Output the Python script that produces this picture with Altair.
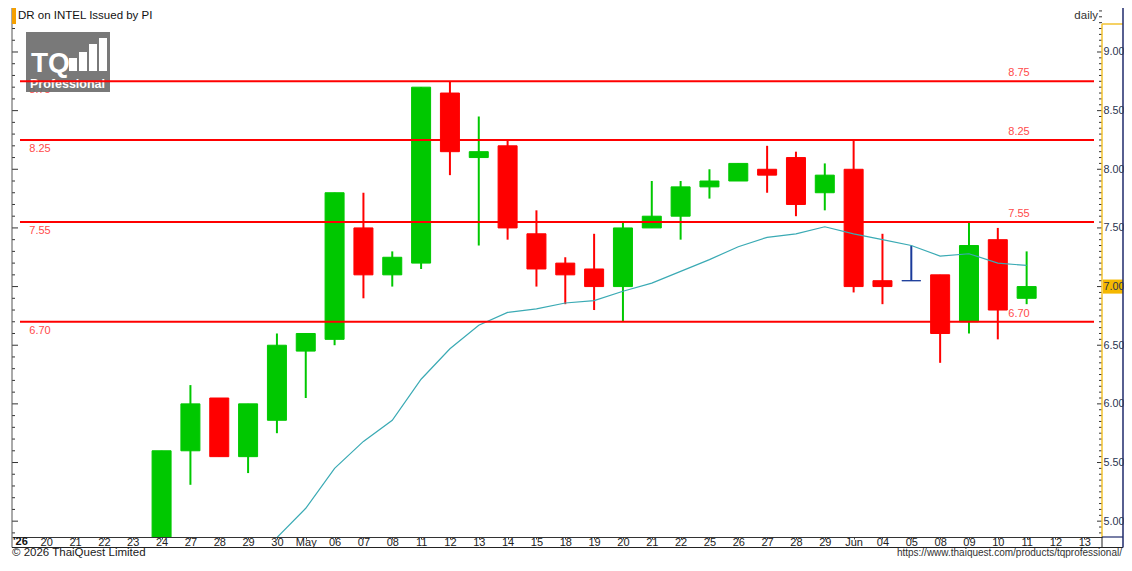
import altair as alt
import pandas as pd
import numpy as np

# ---------------- data ----------------
labels = ["20", "21", "22", "23", "24", "27", "28", "29", "30", "May", "06", "07", "08",
          "11", "12", "13", "14", "15", "18", "19", "20", "21", "22", "25", "26", "27",
          "28", "29", "Jun", "04", "05", "08", "09", "10", "11", "12", "13"]

cdl_idx = list(range(4, 35))
opens  = [4.76, 5.60, 6.05, 5.55, 5.86, 6.45, 6.55, 7.50, 7.10, 7.20, 8.65, 8.10, 8.20, 7.45,
          7.20, 7.15, 7.00, 7.50, 7.60, 7.85, 7.90, 8.00, 8.10, 7.80, 8.00, 7.05, 7.05, 7.10,
          6.70, 7.40, 6.90]
closes = [5.60, 6.00, 5.55, 6.00, 6.50, 6.60, 7.80, 7.10, 7.25, 8.70, 8.15, 8.15, 7.50, 7.15,
          7.10, 7.00, 7.50, 7.60, 7.85, 7.90, 8.05, 7.95, 7.70, 7.95, 7.00, 7.00, 7.05, 6.60,
          7.35, 6.80, 7.00]
highs  = [5.60, 6.16, 6.05, 6.00, 6.60, 6.60, 7.80, 7.80, 7.30, 8.70, 8.75, 8.45, 8.25, 7.65,
          7.25, 7.45, 7.55, 7.90, 7.90, 8.00, 8.05, 8.20, 8.15, 8.05, 8.25, 7.45, 7.35, 7.10,
          7.55, 7.50, 7.30]
lows   = [4.70, 5.31, 5.55, 5.41, 5.75, 6.05, 6.50, 6.90, 7.00, 7.15, 7.95, 7.35, 7.40, 7.00,
          6.85, 6.80, 6.70, 7.50, 7.40, 7.75, 7.90, 7.80, 7.60, 7.65, 6.95, 6.85, 7.05, 6.35,
          6.60, 6.55, 6.85]

ma_idx = list(range(8, 35))
ma_vals = [4.86, 5.11, 5.45, 5.68, 5.86, 6.21, 6.47, 6.67, 6.78, 6.81, 6.86, 6.88, 6.96, 7.03,
           7.13, 7.23, 7.34, 7.42, 7.45, 7.51, 7.45, 7.40, 7.35, 7.26, 7.28, 7.20, 7.18]

levels = [8.75, 8.25, 7.55, 6.70]
level_text = ["8.75", "8.25", "7.55", "6.70"]
right_ticks = [5.0, 5.5, 6.0, 6.5, 7.0, 7.5, 8.0, 8.5, 9.0]

# ---------------- layout ----------------
W, H = 1090, 529
PAD_R, PAD_B = 22, 21
YMIN, YMAX = 4.865, 9.375
XMIN, XMAX = -1.014, 36.44
FONT = "Liberation Sans"

df = pd.DataFrame(dict(i=cdl_idx, o=opens, c=closes, h=highs, l=lows))
df["col"] = np.where(df.c > df.o, "#00c800", np.where(df.c < df.o, "#ff0000", "#1a3a9a"))
ma_df = pd.DataFrame(dict(i=ma_idx, v=ma_vals))
lv_df = pd.DataFrame(dict(lv=levels, t=level_text))

xscale = alt.Scale(domain=[XMIN, XMAX], nice=False, zero=False)
yscale = alt.Scale(domain=[YMIN, YMAX], nice=False, zero=False)
label_js = "[" + ",".join("'%s'" % s for s in labels) + "]"
xaxis = alt.Axis(values=list(range(len(labels))), labelExpr=label_js + "[datum.value]",
                 grid=False, domainColor="#333", tickColor="#444", tickSize=2,
                 labelPadding=3, labelBaseline="middle", labelFont=FONT, labelFontSize=11,
                 labelColor="#222", labelAngle=0, title=None, labelFlush=False,
                 labelOverlap=False)
yaxis = alt.Axis(orient="right", values=right_ticks, format=".2f", grid=False, ticks=False,
                 domain=False, labelPadding=1, labelFont=FONT, labelFontSize=10.8,
                 labelColor="#2a3550", title=None, zindex=1, labelFlush=False,
                 labelOverlap=False)


def X(f):
    return alt.X(f, type="quantitative", scale=xscale, axis=xaxis)


def Y(f):
    return alt.Y(f, type="quantitative", scale=yscale, axis=yaxis)


one = pd.DataFrame({"a": [0]})

# support / resistance labels on the left sit under the logo
lv_left = alt.Chart(lv_df).mark_text(color="#ff4a4a", font=FONT, fontSize=11, dy=9,
                                     align="center").encode(y=Y("lv"), x=alt.value(28), text="t:N")

# logo (decoration)
logo_bg = alt.Chart(one).mark_rect(color="#6a6a6a", opacity=0.9).encode(
    x=alt.value(14), x2=alt.value(98), y=alt.value(24), y2=alt.value(84))
logo_tq = alt.Chart(one).mark_text(text="TQ", color="white", font=FONT, fontSize=28,
                                   fontWeight="bold", align="left", baseline="alphabetic").encode(
    x=alt.value(19), y=alt.value(64))
logo_bars = alt.layer(*[
    alt.Chart(one).mark_rect(color="white").encode(
        x=alt.value(x0), x2=alt.value(x0 + 8), y=alt.value(top), y2=alt.value(63))
    for x0, top in [(57, 50), (67, 44), (77, 36), (87, 30)]
])
logo_pro = alt.Chart(one).mark_text(text="Professional", color="white", font=FONT,
                                    fontSize=12.5, fontWeight="bold", align="left",
                                    baseline="middle").encode(x=alt.value(18), y=alt.value(76))

# candles
wicks = alt.Chart(df).mark_rule(strokeWidth=2, clip=True).encode(
    x=X("i"), y=Y("l"), y2="h", color=alt.Color("col:N", scale=None))
bodies = alt.Chart(df).mark_bar(size=19, strokeWidth=1, clip=True).encode(
    x=X("i"), y=Y("o"), y2="c", color=alt.Color("col:N", scale=None),
    stroke=alt.Stroke("col:N", scale=None))
ma_line = alt.Chart(ma_df).mark_line(color="#3aaab4", strokeWidth=1.2, clip=True).encode(
    x=X("i"), y=Y("v"))

# support / resistance lines
lv_lines = alt.Chart(lv_df).mark_rule(color="#ff0000", strokeWidth=2).encode(
    y=Y("lv"), x=alt.value(8), x2=alt.value(W - 8))
lv_right = alt.Chart(lv_df).mark_text(color="#ff4a4a", font=FONT, fontSize=11, dy=-8,
                                      align="center").encode(y=Y("lv"), x=alt.value(1007), text="t:N")

# small axis ticks (decoration)
lt = np.round(np.arange(4.9, 9.35, 0.1), 2)
left_minor = pd.DataFrame({"v": [v for v in lt if abs(v * 2 - round(v * 2)) > 1e-6]})
left_major = pd.DataFrame({"v": [v for v in lt if abs(v * 2 - round(v * 2)) < 1e-6]})
rt = np.round(np.arange(4.9, 9.36, 0.05), 2)
right_minor = pd.DataFrame({"v": [v for v in rt if abs(v * 2 - round(v * 2)) > 1e-6]})
right_major = pd.DataFrame({"v": [v for v in rt if abs(v * 2 - round(v * 2)) < 1e-6]})


def tick_layer(d, x0, x1):
    return alt.Chart(d).mark_rule(color="#333", strokeWidth=1).encode(
        y=Y("v"), x=alt.value(x0), x2=alt.value(x1))


ticks = alt.layer(tick_layer(left_minor, 0, 3), tick_layer(left_major, 0, 6),
                  tick_layer(right_minor, W - 3, W), tick_layer(right_major, W - 5, W))

# current price marker
last_close = closes[-1]
cur_df = pd.DataFrame({"lo": [last_close - 0.06], "hi": [last_close + 0.06]})
cur_box = alt.Chart(cur_df).mark_rect(color="#f5b800").encode(
    y=Y("lo"), y2="hi", x=alt.value(W + 1), x2=alt.value(W + PAD_R - 1))


def rule(x0, x1, y0, y1, color, w=1):
    return alt.Chart(one).mark_rule(color=color, strokeWidth=w).encode(
        x=alt.value(x0), x2=alt.value(x1), y=alt.value(y0), y2=alt.value(y1))


RX = W + PAD_R - 1
SB = H + 10.5  # bottom of the date strip
frame = alt.layer(
    rule(0, 0, 0, SB, "#555"),
    rule(0, RX, SB, SB, "#222", 1.2),
    rule(W, W, 16, H, "#f2c230", 1.5),
    rule(W, RX, 16, 16, "#f2c230", 1.5),
    rule(W, W, H, SB, "#222"),
    rule(RX, RX, 0, SB, "#1f2a6b", 1.5),
    rule(W, RX, H, H, "#1f2a6b", 1.2),
)

orange = alt.Chart(one).mark_rect(color="#f5a000").encode(
    x=alt.value(0), x2=alt.value(4), y=alt.value(0), y2=alt.value(16))


def text(s, x, y, size=12, align="left", color="#111", weight="normal", baseline="middle"):
    return alt.Chart(one).mark_text(text=s, font=FONT, fontSize=size, align=align,
                                    color=color, fontWeight=weight, baseline=baseline).encode(
        x=alt.value(x), y=alt.value(y))


texts = alt.layer(
    text("DR on INTEL Issued by PI", 6, 8, size=11.5),
    text("daily", W - 4, 8, size=11.5, align="right", color="#333"),
    text("'26", 1, H + 5, size=11, weight="bold", color="#111"),
    text("\u00a9 2026 ThaiQuest Limited", 0, H + 19, size=11.5, color="#222",
         baseline="alphabetic"),
    text("https://www.thaiquest.com/products/tqprofessional/", RX - 1, H + 19, size=10,
         align="right", color="#333", baseline="alphabetic"),
)

chart = alt.layer(
    lv_left, logo_bg, logo_tq, logo_bars, logo_pro,
    wicks, bodies, ma_line,
    lv_lines, lv_right,
    ticks, cur_box, frame, orange, texts,
).properties(
    width=W, height=H,
    autosize=alt.AutoSizeParams(type="none"),
    padding={"left": 4, "top": 0, "right": PAD_R, "bottom": PAD_B},
    background="white",
).configure_view(stroke=None)

chart.save("out.html", embed_options={"renderer": "svg", "actions": False})
